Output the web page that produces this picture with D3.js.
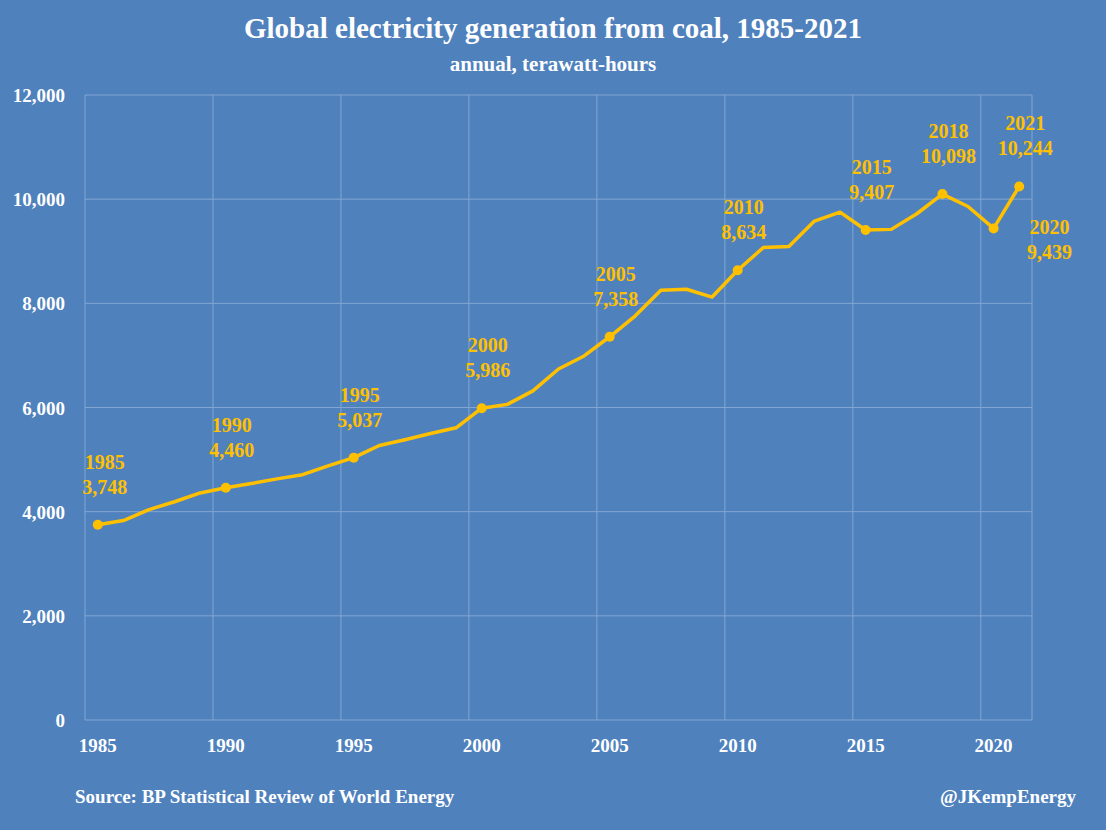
<!DOCTYPE html>
<html><head><meta charset="utf-8">
<script src="https://cdn.jsdelivr.net/npm/d3@7"></script>
<style>
body{margin:0;background:#4f81bd;}
text{font-family:"Liberation Serif","DejaVu Serif",serif;font-weight:bold;}
</style></head>
<body>
<script>
// data
var years = d3.range(1985, 2022);
var coal = [3748,3830,4040,4190,4360,4460,4540,4630,4710,4880,5037,5270,5380,5500,5610,5986,6060,6320,6740,6990,7358,7760,8250,8270,8120,8634,9070,9090,9580,9750,9407,9420,9720,10098,9860,9439,10244];
var marked = [1985,1990,1995,2000,2005,2010,2015,2018,2020,2021];
var yTicks = [0,2000,4000,6000,8000,10000,12000];
var xTicks = [1985,1990,1995,2000,2005,2010,2015,2020];

const w = 1106, h = 830;
const padL = 85, padR = 1032, padT = 95, padB = 720;

var svg = d3.select("body").append("svg").attr("width", w).attr("height", h);
svg.append("rect").attr("width", w).attr("height", h).attr("fill", "#4f81bd");

var x = d3.scaleBand().domain(years).range([padL, padR]);
var y = d3.scaleLinear().domain([0, 12000]).range([padB, padT]);

// grid
svg.selectAll(".hg").data(yTicks).enter().append("line")
  .attr("x1", padL).attr("x2", padR)
  .attr("y1", d => y(d)).attr("y2", d => y(d))
  .attr("stroke", "#84a6d3").attr("stroke-width", 1);
svg.selectAll(".vg").data(xTicks).enter().append("line")
  .attr("x1", d => x(d)).attr("x2", d => x(d))
  .attr("y1", padT).attr("y2", padB)
  .attr("stroke", "#84a6d3").attr("stroke-width", 1);
svg.append("line").attr("x1", padR).attr("x2", padR).attr("y1", padT).attr("y2", padB)
  .attr("stroke", "#84a6d3");

// axis labels
svg.selectAll(".yl").data(yTicks).enter().append("text")
  .attr("x", 65).attr("y", d => y(d) + 7).attr("text-anchor", "end")
  .attr("fill", "white").attr("font-size", 19).text(d => d3.format(",")(d));
svg.selectAll(".xl").data(xTicks).enter().append("text")
  .attr("x", d => x(d) + x.bandwidth()/2).attr("y", 752).attr("text-anchor", "middle")
  .attr("fill", "white").attr("font-size", 19).text(d => d);

// line
var line = d3.line().x((d, i) => x(years[i]) + x.bandwidth()/2).y(d => y(d));
svg.append("path").datum(coal).attr("d", line)
  .attr("fill", "none").attr("stroke", "#ffc000").attr("stroke-width", 3.5)
  .attr("stroke-linejoin", "round");

// points + labels
svg.selectAll(".pt").data(marked).enter().append("circle")
  .attr("cx", d => x(d) + x.bandwidth()/2)
  .attr("cy", d => y(coal[years.indexOf(d)]))
  .attr("r", 5).attr("fill", "#ffc000");

marked.forEach(function(yr){
  var v = coal[years.indexOf(yr)];
  var cx = x(yr) + x.bandwidth()/2, cy = y(v);
  var ty = cy - 56, tx = cx + 6;
  if (yr == 2020) { ty = cy + 6; tx = cx + 56; }
  if (yr == 1985) { tx = cx + 7; }
  var t = svg.append("text").attr("text-anchor", "middle").attr("fill", "#ffc000").attr("font-size", 20);
  t.append("tspan").attr("x", tx).attr("y", ty).text(yr);
  t.append("tspan").attr("x", tx).attr("y", ty + 25).text(d3.format(",")(v));
});

// titles
svg.append("text").attr("x", 553).attr("y", 38).attr("text-anchor", "middle")
  .attr("fill", "white").attr("font-size", 29).text("Global electricity generation from coal, 1985-2021");
svg.append("text").attr("x", 553).attr("y", 71).attr("text-anchor", "middle")
  .attr("fill", "white").attr("font-size", 21).text("annual, terawatt-hours");
svg.append("text").attr("x", 75).attr("y", 803)
  .attr("fill", "white").attr("font-size", 19).text("Source: BP Statistical Review of World Energy");
svg.append("text").attr("x", 1076).attr("y", 803).attr("text-anchor", "end")
  .attr("fill", "white").attr("font-size", 19).text("@JKempEnergy");
</script>
</body></html>
